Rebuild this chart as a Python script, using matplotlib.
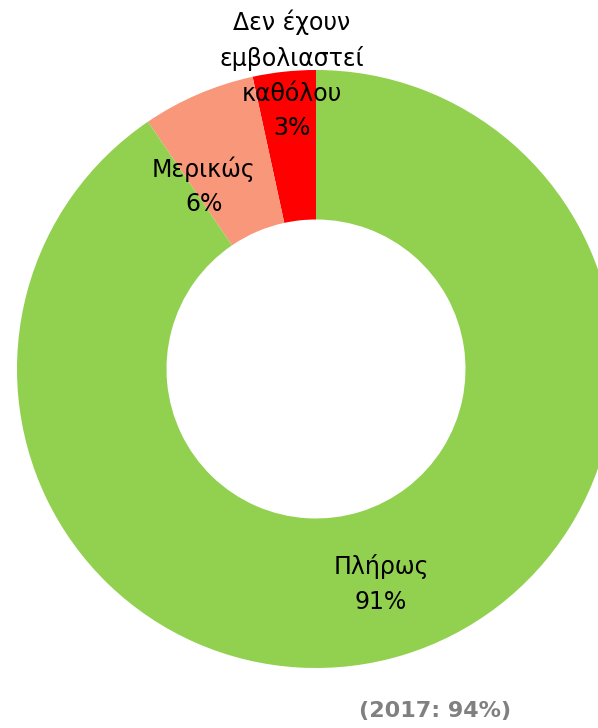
import matplotlib
matplotlib.use("Agg")
import matplotlib.pyplot as plt

categories = ["Δεν έχουν\nεμβολιαστεί\nκαθόλου", "Μερικώς", "Πλήρως"]
values = [3.4, 6.1, 90.5]
pct_labels = ["3%", "6%", "91%"]
colors = ["#FF0000", "#F9977A", "#92D050"]
footer = "(2017: 94%)"

W, H = 598, 728
fig = plt.figure(figsize=(W / 100, H / 100), dpi=100)
ax = fig.add_axes([0, 0, 1, 1])

cx, cy, r = 316, H - 369, 299
ax.pie(values, colors=colors, startangle=90, counterclock=True,
       center=(cx, cy), radius=r, frame=True,
       wedgeprops=dict(width=r * 0.5, linewidth=0))
ax.set_xlim(0, W)
ax.set_ylim(0, H)
ax.set_aspect("equal")
ax.axis("off")

label_pos = [(292, H - 75), (204, H - 186), (381, H - 584)]
for cat, p, (x, y) in zip(categories, pct_labels, label_pos):
    ax.text(x, y, f"{cat}\n{p}", ha="center", va="center",
            fontsize=17, family="DejaVu Sans", color="black", linespacing=1.55)

ax.text(435, H - 711, footer, ha="center", va="center", fontsize=16,
        fontweight="bold", color="#808080", family="DejaVu Sans")

fig.savefig("out.png", dpi=100)
